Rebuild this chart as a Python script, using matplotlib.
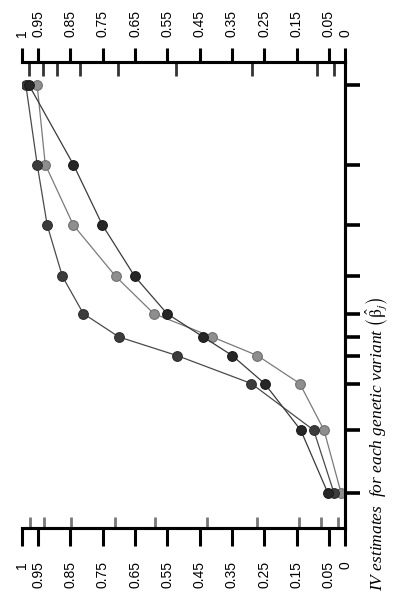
import numpy as np
import matplotlib.pyplot as plt

# IV estimates (vertical direction, bottom to top) - unitless positions
betas = [0.075, 0.21, 0.31, 0.37, 0.41, 0.46, 0.54, 0.65, 0.78, 0.95]

# proportion values for the three series, in the same order as betas
black_vals = [0.053, 0.137, 0.249, 0.349, 0.439, 0.551, 0.651, 0.751, 0.841, 0.978]
dark_vals = [0.034, 0.097, 0.29, 0.52, 0.70, 0.81, 0.875, 0.922, 0.953, 0.988]
light_vals = [0.012, 0.065, 0.14, 0.271, 0.411, 0.592, 0.71, 0.841, 0.928, 0.953]

# inner (rug-like) ticks on the top and bottom axes
top_rug = [0.978, 0.934, 0.891, 0.819, 0.703, 0.522, 0.2875, 0.0875, 0.034]
bottom_rug = [0.975, 0.931, 0.847, 0.713, 0.589, 0.427, 0.271, 0.143, 0.075, 0.022]

tick_vals = [1, 0.95, 0.85, 0.75, 0.65, 0.55, 0.45, 0.35, 0.25, 0.15, 0.05, 0]
tick_labels = ["1", "0.95", "0.85", "0.75", "0.65", "0.55", "0.45", "0.35",
               "0.25", "0.15", "0.05", "0"]

plt.rcParams['font.family'] = ['Liberation Sans', 'DejaVu Sans']
plt.rcParams['mathtext.fontset'] = 'stix'

W, H = 395, 596
fig = plt.figure(figsize=(W / 100, H / 100), dpi=100)
ax = fig.add_axes([22 / W, 1 - 528 / H, (345 - 22) / W, (528 - 62) / H])

line_kw = dict(lw=0.9, markersize=7, markeredgewidth=0.8, zorder=3)
ax.plot(light_vals, betas, '-o', color='#7a7a7a', markerfacecolor='#8e8e8e',
        markeredgecolor='#707070', **line_kw)
ax.plot(dark_vals, betas, '-o', color='#4a4a4a', markerfacecolor='#3c3c3c',
        markeredgecolor='#2e2e2e', **line_kw)
ax.plot(black_vals, betas, '-o', color='#3a3a3a', markerfacecolor='#262626',
        markeredgecolor='#1a1a1a', **line_kw)

ax.set_xlim(1, 0)
ax.set_ylim(0, 1)

# bottom axis
ax.set_xticks(tick_vals)
ax.set_xticklabels(tick_labels)
ax.set_xticks(bottom_rug, minor=True)
ax.tick_params(axis='x', which='major', direction='out', length=13, width=2.2,
               top=False, bottom=True, labelrotation=90, labelsize=10, pad=11)
ax.tick_params(axis='x', which='minor', direction='in', length=8, width=2,
               color='#777777', top=False, bottom=True)

# right axis, ticks at the estimates
ax.yaxis.tick_right()
ax.set_yticks(betas)
ax.set_yticklabels([])
ax.tick_params(axis='y', which='both', direction='out', length=11, width=2.6,
               left=False, right=True)
ax.spines['left'].set_visible(False)
for s in ['top', 'bottom', 'right']:
    ax.spines[s].set_linewidth(2.2)

# top axis
ax2 = ax.twiny()
ax2.set_xlim(1, 0)
ax2.set_xticks(tick_vals)
ax2.set_xticklabels(tick_labels)
ax2.set_xticks(top_rug, minor=True)
ax2.tick_params(axis='x', which='major', direction='out', length=10, width=2.2,
                top=True, bottom=False, labelrotation=90, labelsize=10, pad=8)
ax2.tick_params(axis='x', which='minor', direction='in', length=10, width=2,
                color='#333333', top=True, bottom=False)
ax2.spines['left'].set_visible(False)
for s in ['top', 'bottom', 'right']:
    ax2.spines[s].set_linewidth(2.2)

fig.text(377 / W, 1 - 444 / H,
         r'IV estimates  for each genetic variant $\left(\hat{\mathrm{\beta}}_j\right)$',
         rotation=90, ha='center', va='center', fontsize=12.5,
         family='Liberation Serif', style='italic')

fig.savefig('out.png', dpi=100)
